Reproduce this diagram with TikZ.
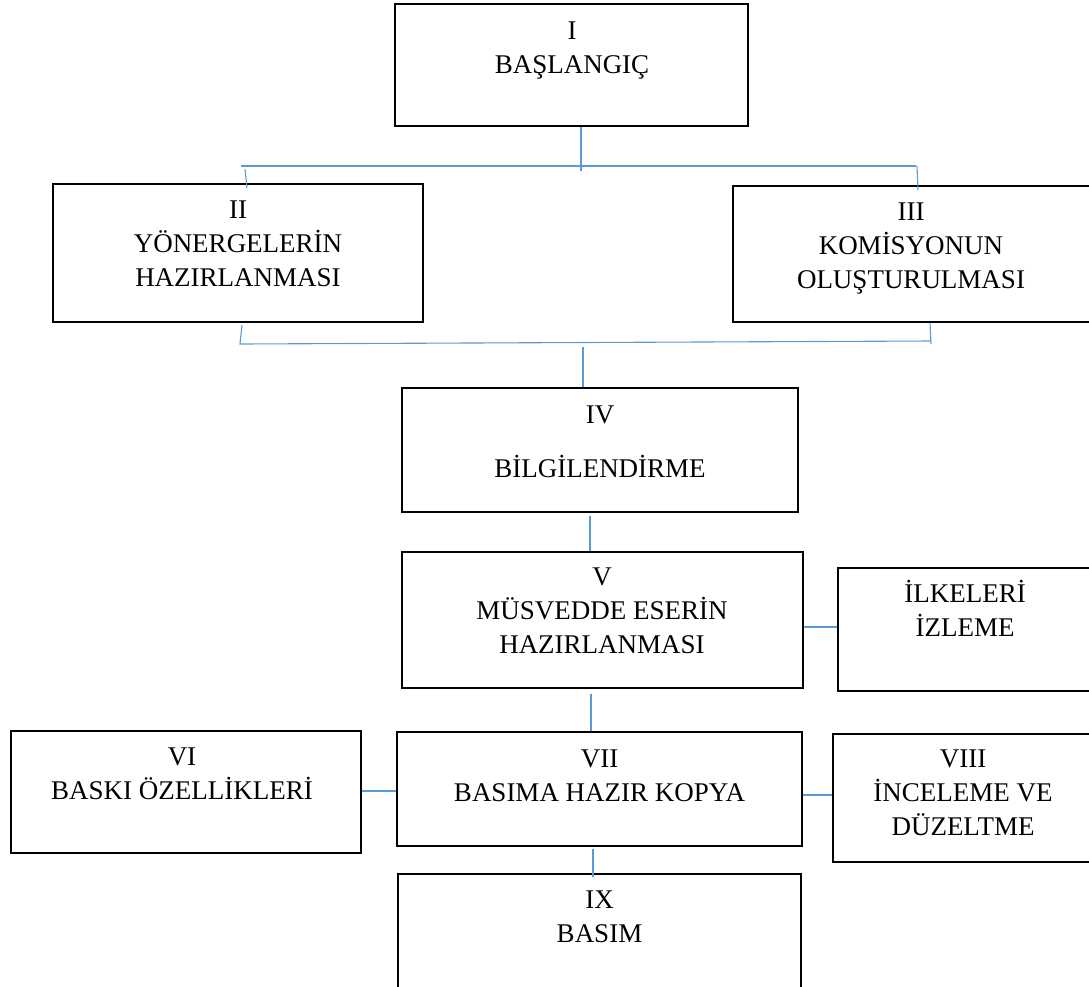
\documentclass[tikz,border=0pt]{standalone}
\usepackage{fontspec,xcolor,tikz}
\setmainfont{Liberation Serif}
\definecolor{linkblue}{RGB}{91,155,213}

\begin{document}
\begin{tikzpicture}[x=1pt,y=-1pt,
		box/.style={draw,line width=1.3pt,inner sep=0pt,rectangle},
		txt/.style={anchor=north,align=center,inner sep=0pt,font=\fontsize{27}{34}\selectfont},
		link/.style={draw=linkblue,line width=1.1pt}]
		\useasboundingbox (0,0) rectangle (1089,986);
		% frames
		\node[box,minimum width=353,minimum height=122] (b1) at (571.5,65) {};
		\node[box,minimum width=370,minimum height=138] (b2) at (238,253) {};
		\node[box,minimum width=360,minimum height=136] (b3) at (913,254) {};
		\node[box,minimum width=396,minimum height=124] (b4) at (600,450) {};
		\node[box,minimum width=401,minimum height=136] (b5) at (602.5,620) {};
		\node[box,minimum width=254,minimum height=123] (b6) at (965,629.5) {};
		\node[box,minimum width=350,minimum height=122] (b7) at (186,792) {};
		\node[box,minimum width=405,minimum height=114] (b8) at (599.5,789) {};
		\node[box,minimum width=260,minimum height=128] (b9) at (963,798) {};
		\node[box,minimum width=403,minimum height=130] (b10) at (599.5,939) {};
		% texts
		\node[txt] (t1) at (572,21.3) {I\\BAŞLANGIÇ};
		\node[txt] (t2) at (238,200.3) {II\\YÖNERGELERİN\\HAZIRLANMASI};
		\node[txt] (t3) at (911,202.3) {III\\KOMİSYONUN\\OLUŞTURULMASI};
		\node[txt] (t4) at (600,405.3) {IV\\[20pt]BİLGİLENDİRME};
		\node[txt] (t5) at (602,567.3) {V\\MÜSVEDDE ESERİN\\HAZIRLANMASI};
		\node[txt] (t6) at (965,579.9) {İLKELERİ\\İZLEME};
		\node[txt] (t7) at (182,747.3) {VI\\BASKI ÖZELLİKLERİ};
		\node[txt] (t8) at (599.5,749.3) {VII\\BASIMA HAZIR KOPYA};
		\node[txt] (t9) at (963,749.3) {VIII\\İNCELEME VE\\DÜZELTME};
		\node[txt] (t10) at (599.5,890.3) {IX\\BASIM};
		% top bracket
		\coordinate (j1) at (581,171);
		\coordinate (h1) at (241,166);
		\coordinate (h2) at (916,166);
		\coordinate (k1) at (245,169);
		\coordinate (k2) at (247,188);
		\coordinate (k3) at (917,166);
		\coordinate (k4) at (918,190);
		\draw[link] (b1.south -| j1) -- (j1);
		\draw[link] (h1) -- (h2);
		\draw[link] (k1) -- (k2);
		\draw[link] (k3) -- (k4);
		% bottom bracket
		\coordinate (m1) at (242,325);
		\coordinate (m2) at (240,344);
		\coordinate (m3) at (931,341);
		\coordinate (m4) at (930,323);
		\coordinate (m5) at (931,344);
		\coordinate (j2) at (583,347);
		\draw[link] (m1) -- (m2) -- (m3);
		\draw[link] (m4) -- (m5);
		\draw[link] (j2) -- (b4.north -| j2);
		% chain
		\coordinate (v45) at (590,530);
		\coordinate (v58) at (591,710);
		\coordinate (v810) at (593,860);
		\coordinate (h56) at (820,627);
		\coordinate (h78) at (380,791);
		\coordinate (h89) at (818,795);
		\draw[link,shorten <=3pt] (b4.south -| v45) -- (b5.north -| v45);
		\draw[link,shorten <=5pt] (b5.south -| v58) -- (b8.north -| v58);
		\draw[link,shorten <=2pt,shorten >=-4pt] (b8.south -| v810) -- (b10.north -| v810);
		\draw[link] (b5.east |- h56) -- (b6.west |- h56);
		\draw[link] (b7.east |- h78) -- (b8.west |- h78);
		\draw[link] (b8.east |- h89) -- (b9.west |- h89);
	\end{tikzpicture}
\end{document}
